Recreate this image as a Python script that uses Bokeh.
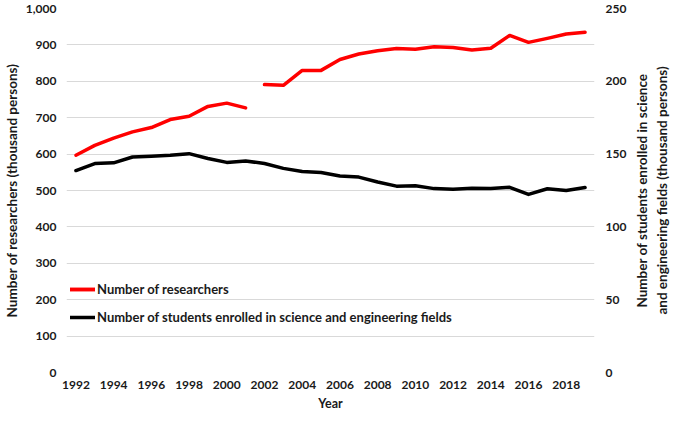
from bokeh.plotting import figure
from bokeh.layouts import row
from bokeh.models import (Range1d, LinearAxis, FixedTicker, NumeralTickFormatter, Legend, LegendItem)
from bokeh.embed import file_html
from bokeh.resources import INLINE

years = [1992, 1993, 1994, 1995, 1996, 1997, 1998, 1999, 2000, 2001,
         2002, 2003, 2004, 2005, 2006, 2007, 2008, 2009, 2010, 2011,
         2012, 2013, 2014, 2015, 2016, 2017, 2018, 2019]
researchers = [597, 624, 644, 661, 673, 695, 704, 731, 740, 727,
               791, 789, 830, 830, 860, 875, 884, 890, 888, 895,
               893, 886, 891, 926, 907, 918, 930, 935]
students = [138.7, 143.5, 144.0, 148.0, 148.5, 149.2, 150.3, 147.0, 144.3, 145.3,
            143.5, 140.2, 138.0, 137.3, 135.0, 134.2, 130.8, 128.0, 128.3, 126.3,
            125.8, 126.5, 126.3, 127.2, 122.3, 126.2, 125.0, 127.0]
series_break_year = 2002
x_ticks = [1992, 1994, 1996, 1998, 2000, 2002, 2004, 2006, 2008, 2010, 2012, 2014, 2016, 2018]
left_ticks = [0, 100, 200, 300, 400, 500, 600, 700, 800, 900, 1000]
right_ticks = [0, 50, 100, 150, 200, 250]

label_res = "Number of researchers"
label_stu = "Number of students enrolled in science and engineering fields"
title_x = "Year"
title_left = "Number of researchers (thousand persons)"
title_right = "Number of students enrolled in science\nand engineering fields (thousand persons)"

FONT = "Lato"
TXT = "#1a1a1a"

fig = figure(width=634, height=413, output_backend="svg", toolbar_location=None,
             x_range=Range1d(1991.5, 2019.5), y_range=Range1d(0, 1000),
             min_border_left=57, min_border_right=40, min_border_top=8, min_border_bottom=40)
fig.outline_line_color = None
fig.extra_y_ranges = {"right": Range1d(0, 250)}

k = years.index(series_break_year)
r1 = fig.line(years[:k], researchers[:k], line_color="#ff0000", line_width=3.5, line_cap="round", line_join="round")
r2 = fig.line(years[k:], researchers[k:], line_color="#ff0000", line_width=3.5, line_cap="round", line_join="round")
r3 = fig.line(years, students, line_color="#000000", line_width=3.5, line_cap="round", line_join="round",
              y_range_name="right")

def style_axis(ax, title_size="13.5px"):
    ax.axis_line_color = None
    ax.major_tick_line_color = None
    ax.minor_tick_line_color = None
    ax.major_tick_out = 0
    ax.major_tick_in = 0
    ax.minor_tick_out = 0
    ax.minor_tick_in = 0
    ax.major_label_text_font = FONT
    ax.major_label_text_font_style = "bold"
    ax.major_label_text_font_size = "12px"
    ax.major_label_text_color = TXT
    ax.axis_label_text_font = FONT
    ax.axis_label_text_font_style = "bold"
    ax.axis_label_text_font_size = title_size
    ax.axis_label_text_color = TXT

fig.xaxis.ticker = FixedTicker(ticks=x_ticks)
fig.xaxis.axis_label = title_x
style_axis(fig.xaxis[0], "12.5px")
fig.xaxis.major_label_standoff = 8
fig.xaxis.axis_label_standoff = 4

fig.yaxis.ticker = FixedTicker(ticks=left_ticks)
fig.yaxis.formatter = NumeralTickFormatter(format="0,0")
fig.yaxis.axis_label = title_left
style_axis(fig.yaxis[0])
fig.yaxis.major_label_standoff = 10
fig.yaxis.axis_label_standoff = 3

ry = LinearAxis(y_range_name="right", ticker=FixedTicker(ticks=right_ticks))
style_axis(ry)
ry.major_label_standoff = 11
fig.add_layout(ry, "right")

fig.xgrid.grid_line_color = None
fig.ygrid.grid_line_color = "#d9d9d9"
fig.ygrid.grid_line_width = 1
fig.ygrid.ticker = FixedTicker(ticks=left_ticks)

legend = Legend(items=[LegendItem(label=label_res, renderers=[r1, r2]),
                       LegendItem(label=label_stu, renderers=[r3])],
                location=(4, 45), orientation="vertical")
legend.label_text_font = FONT
legend.label_text_font_style = "bold"
legend.label_text_font_size = "13px"
legend.label_text_color = TXT
legend.glyph_width = 25
legend.glyph_height = 20
legend.label_standoff = 2
legend.spacing = 8
legend.padding = 0
legend.margin = 0
legend.border_line_color = None
legend.background_fill_alpha = 0
fig.add_layout(legend, "center")

# narrow companion figure carrying the right-hand axis title (reads bottom-to-top)
side = figure(width=35, height=413, output_backend="svg", toolbar_location=None,
              x_range=Range1d(0, 1), y_range=Range1d(0, 1),
              x_axis_location=None, y_axis_location="left",
              min_border_left=34, min_border_right=0, min_border_top=8, min_border_bottom=40)
side.outline_line_color = None
side.xgrid.visible = False
side.ygrid.visible = False
side.yaxis.ticker = FixedTicker(ticks=[])
side.yaxis.axis_label = title_right
style_axis(side.yaxis[0])
side.yaxis.axis_label_standoff = 0
side.yaxis.major_label_standoff = 0

p = row(fig, side, spacing=0)

open("out.html", "w").write(file_html(p, INLINE))
